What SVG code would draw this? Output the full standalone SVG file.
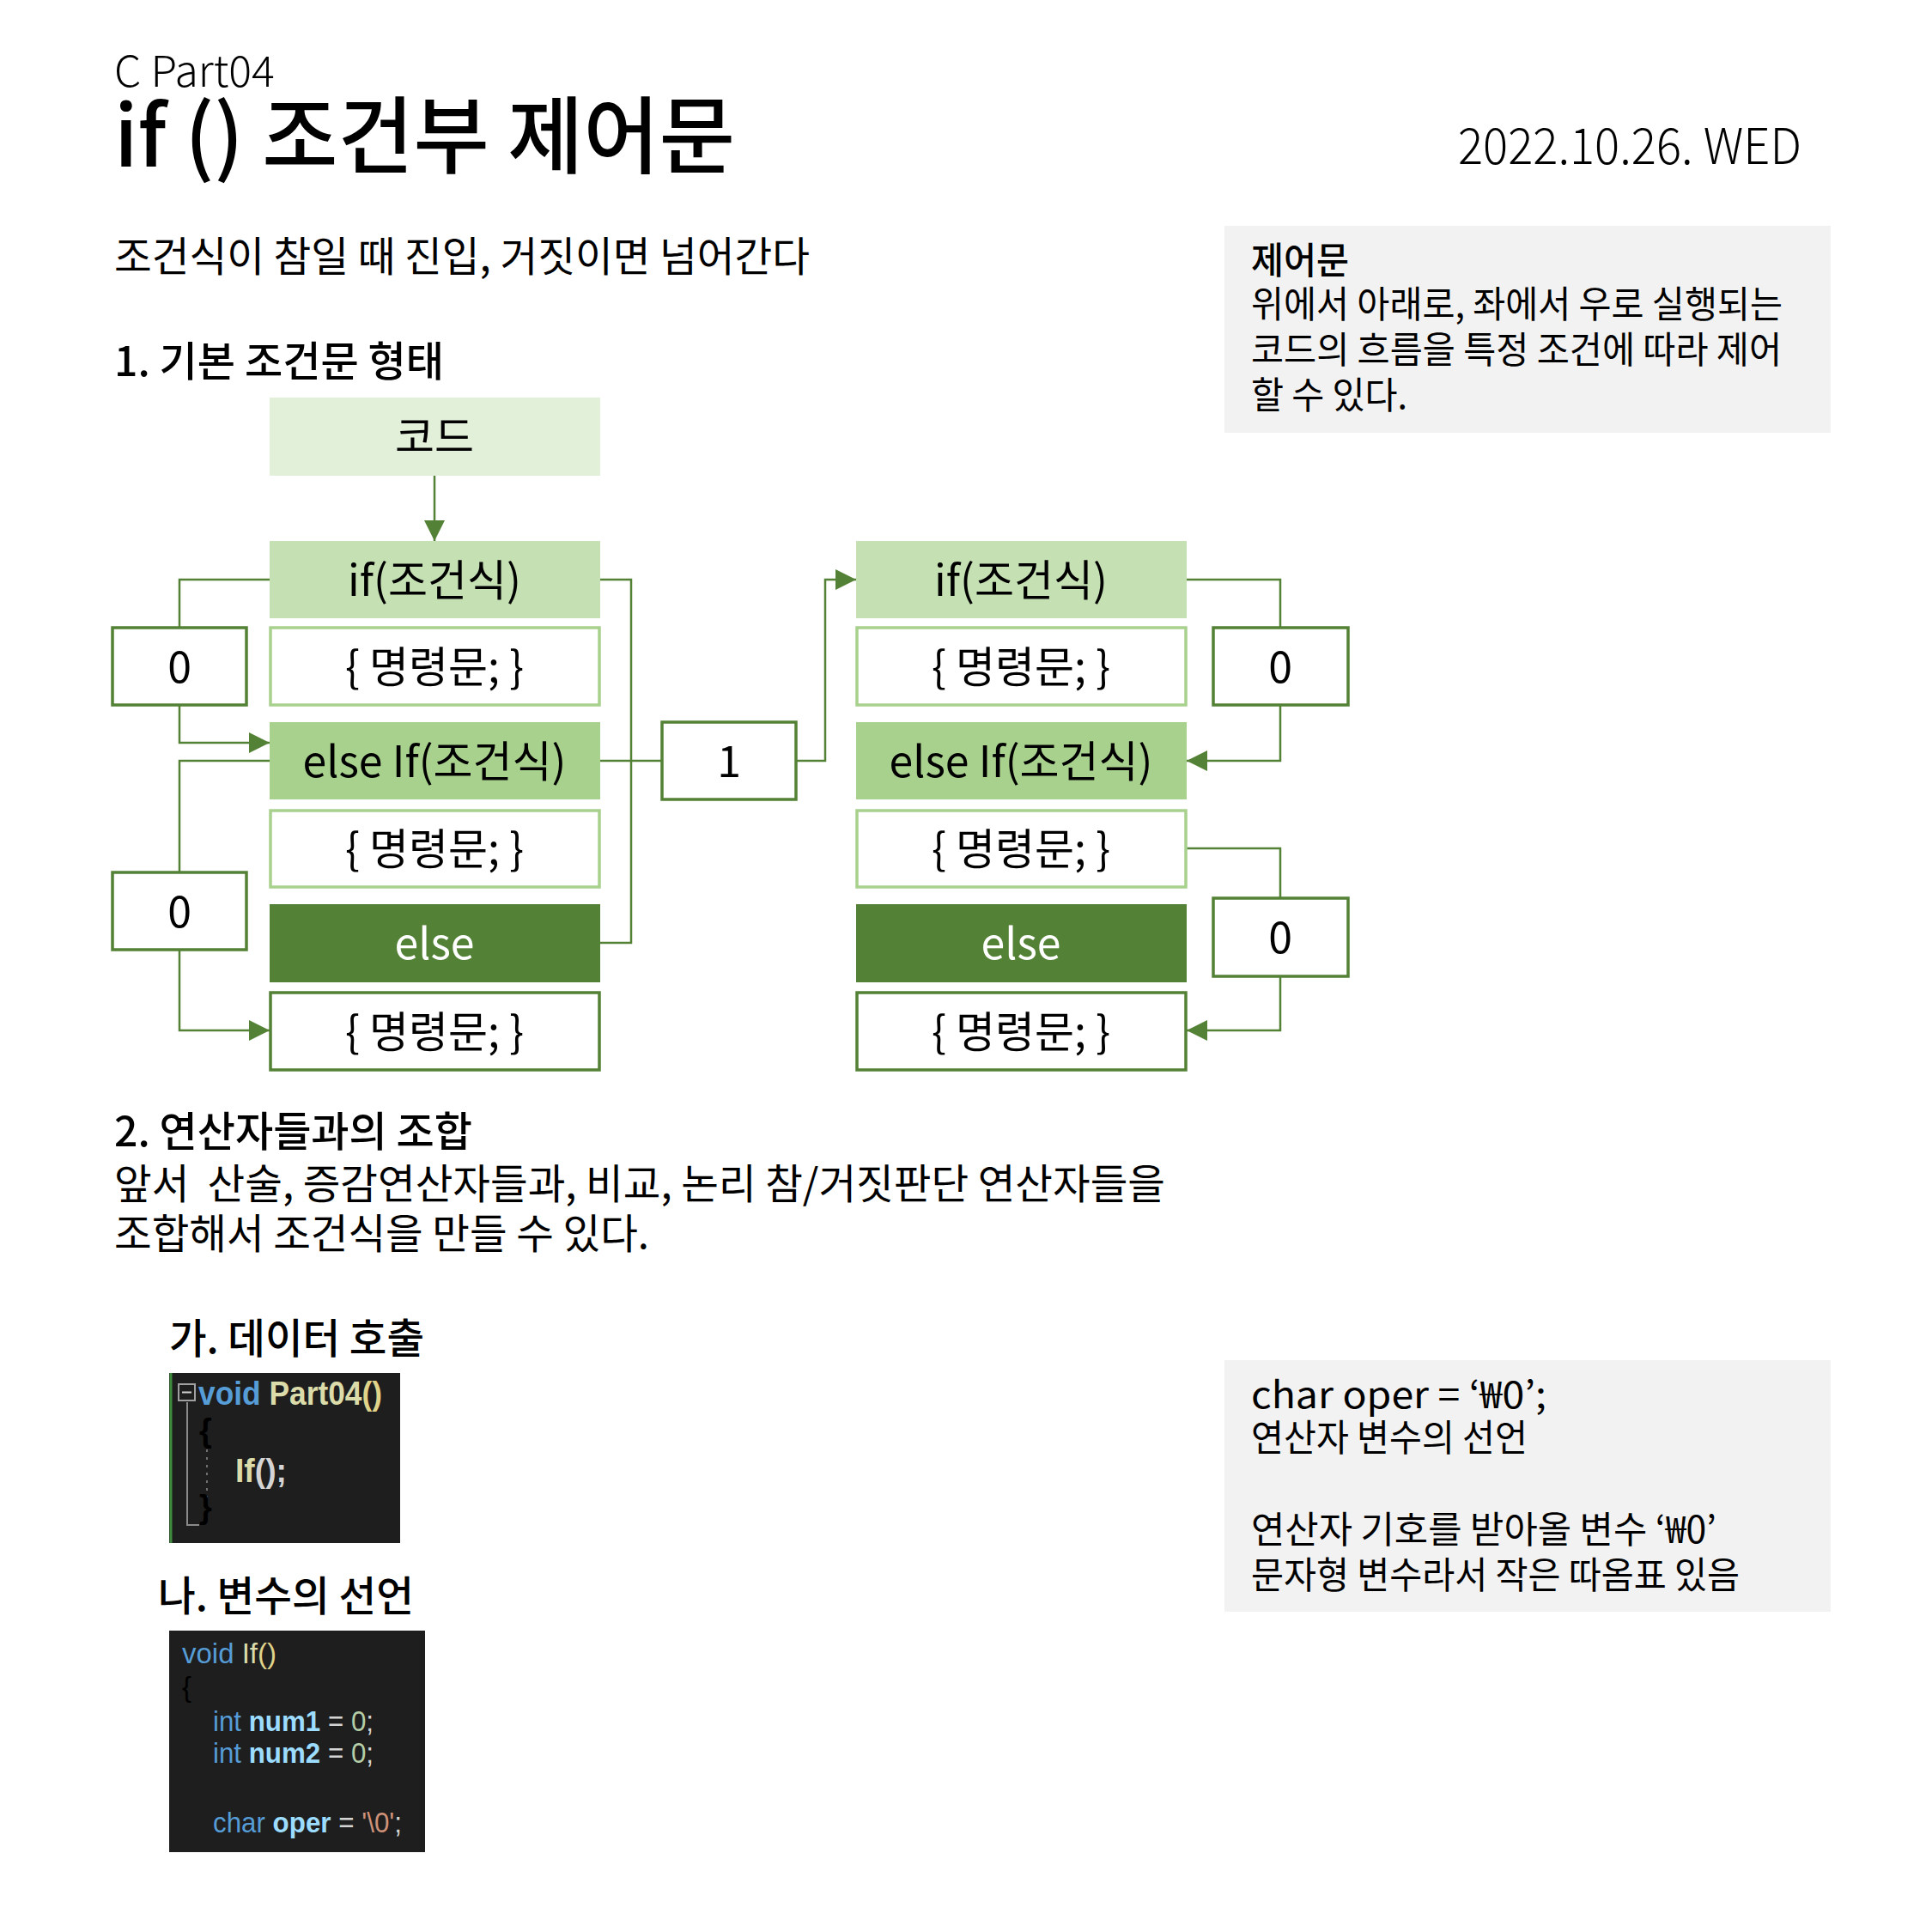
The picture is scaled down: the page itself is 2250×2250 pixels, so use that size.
<svg xmlns="http://www.w3.org/2000/svg" width="2250" height="2250" viewBox="0 0 2250 2250">
<style>
  text { font-family: "Noto Sans CJK KR", "Noto Sans", sans-serif; fill: #000; }
  .lbl { font-size: 50px; text-anchor: middle; dominant-baseline: central; }
  .wht { fill: #fff; }
  .body { font-size: 48px; }
  .note { font-size: 43px; }
  .bold { font-weight: 500; }
  .code { font-family: "Liberation Sans", Arial, sans-serif; }
  .conn { fill: none; stroke: #538135; stroke-width: 2.5; }
  .c1 { fill: #e2efd9; }
  .c2 { fill: #c5e0b3; }
  .c3 { fill: #a9d18e; }
  .c4 { fill: #538135; }
  .cmdL { fill: #fff; stroke: #a9d18e; stroke-width: 3.5; }
  .cmdD { fill: #fff; stroke: #538135; stroke-width: 3.5; }
  .num { fill: #fff; stroke: #538135; stroke-width: 3.5; }
  .gray { fill: #f2f2f2; }
</style>
<defs>
  <marker id="arr" viewBox="0 0 10 10" refX="10" refY="5" markerUnits="userSpaceOnUse" markerWidth="24" markerHeight="24" orient="auto">
    <path d="M0,0 L10,5 L0,10 z" fill="#538135"/>
  </marker>
</defs>
<rect width="2250" height="2250" fill="#fff"/>

<!-- Header -->
<g id="header">
  <text x="133" y="101" font-size="50" font-weight="300">C Part04</text>
  <text x="133" y="194" font-size="98" font-weight="500" textLength="723" lengthAdjust="spacingAndGlyphs">if () 조건부 제어문</text>
  <text x="2098" y="191" font-size="58" font-weight="300" text-anchor="end" textLength="400" lengthAdjust="spacingAndGlyphs">2022.10.26. WED</text>
  <text x="133" y="316" class="body" textLength="810" lengthAdjust="spacingAndGlyphs">조건식이 참일 때 진입, 거짓이면 넘어간다</text>
  <text x="133" y="438" class="body bold" textLength="384" lengthAdjust="spacingAndGlyphs">1. 기본 조건문 형태</text>
</g>

<!-- Note box 1 -->
<g id="note1">
  <rect x="1426" y="263" width="706" height="241" class="gray"/>
  <text x="1457" y="319" class="note bold" textLength="114" lengthAdjust="spacingAndGlyphs">제어문</text>
  <text x="1457" y="370" class="note" textLength="619" lengthAdjust="spacingAndGlyphs">위에서 아래로, 좌에서 우로 실행되는</text>
  <text x="1457" y="423" class="note" textLength="618" lengthAdjust="spacingAndGlyphs">코드의 흐름을 특정 조건에 따라 제어</text>
  <text x="1457" y="476" class="note" textLength="182" lengthAdjust="spacingAndGlyphs">할 수 있다.</text>
</g>

<!-- Connectors -->
<g id="connectors">
  <line x1="506" y1="554" x2="506" y2="630" class="conn" marker-end="url(#arr)"/>
  <polyline points="314,675 209,675 209,730" class="conn"/>
  <polyline points="209,822 209,865 314,865" class="conn" marker-end="url(#arr)"/>
  <polyline points="314,886 209,886 209,1016" class="conn"/>
  <polyline points="209,1106 209,1200 314,1200" class="conn" marker-end="url(#arr)"/>
  <polyline points="699,675 735,675 735,1098 699,1098" class="conn"/>
  <line x1="699" y1="886" x2="771" y2="886" class="conn"/>
  <polyline points="927,886 961,886 961,675 997,675" class="conn" marker-end="url(#arr)"/>
  <polyline points="1382,675 1491,675 1491,730" class="conn"/>
  <polyline points="1491,822 1491,886 1382,886" class="conn" marker-end="url(#arr)"/>
  <polyline points="1382,988 1491,988 1491,1046" class="conn"/>
  <polyline points="1491,1137 1491,1200 1382,1200" class="conn" marker-end="url(#arr)"/>
</g>

<!-- Left column -->
<g id="code-box"><rect x="314" y="463" width="385" height="91" class="c1"/><text x="506" y="505" class="lbl">코드</text></g>
<g id="L-if"><rect x="314" y="630" width="385" height="90" class="c2"/><text x="506" y="672" class="lbl">if(조건식)</text></g>
<g id="L-cmd1"><rect x="315" y="731" width="383" height="90" class="cmdL"/><text x="506" y="773" class="lbl">{ 명령문; }</text></g>
<g id="L-elseif"><rect x="314" y="841" width="385" height="90" class="c3"/><text x="506" y="883" class="lbl">else If(조건식)</text></g>
<g id="L-cmd2"><rect x="315" y="944" width="383" height="89" class="cmdL"/><text x="506" y="985" class="lbl">{ 명령문; }</text></g>
<g id="L-else"><rect x="314" y="1053" width="385" height="91" class="c4"/><text x="506" y="1095" class="lbl wht">else</text></g>
<g id="L-cmd3"><rect x="315" y="1156" width="383" height="90" class="cmdD"/><text x="506" y="1198" class="lbl">{ 명령문; }</text></g>

<g id="L-zero1"><rect x="131" y="731" width="156" height="90" class="num"/><text x="209" y="773" class="lbl">0</text></g>
<g id="L-zero2"><rect x="131" y="1016" width="156" height="90" class="num"/><text x="209" y="1058" class="lbl">0</text></g>
<g id="one"><rect x="771" y="841" width="156" height="90" class="num"/><text x="849" y="883" class="lbl">1</text></g>

<!-- Right column -->
<g id="R-if"><rect x="997" y="630" width="385" height="90" class="c2"/><text x="1189" y="672" class="lbl">if(조건식)</text></g>
<g id="R-cmd1"><rect x="998" y="731" width="383" height="90" class="cmdL"/><text x="1189" y="773" class="lbl">{ 명령문; }</text></g>
<g id="R-elseif"><rect x="997" y="841" width="385" height="90" class="c3"/><text x="1189" y="883" class="lbl">else If(조건식)</text></g>
<g id="R-cmd2"><rect x="998" y="944" width="383" height="89" class="cmdL"/><text x="1189" y="985" class="lbl">{ 명령문; }</text></g>
<g id="R-else"><rect x="997" y="1053" width="385" height="91" class="c4"/><text x="1189" y="1095" class="lbl wht">else</text></g>
<g id="R-cmd3"><rect x="998" y="1156" width="383" height="90" class="cmdD"/><text x="1189" y="1198" class="lbl">{ 명령문; }</text></g>

<g id="R-zero1"><rect x="1413" y="731" width="157" height="90" class="num"/><text x="1491" y="773" class="lbl">0</text></g>
<g id="R-zero2"><rect x="1413" y="1046" width="157" height="91" class="num"/><text x="1491" y="1088" class="lbl">0</text></g>

<!-- Section 2 -->
<g id="section2">
  <text x="133" y="1335" class="body bold" textLength="417" lengthAdjust="spacingAndGlyphs">2. 연산자들과의 조합</text>
  <text x="133" y="1396" class="body" textLength="1224" lengthAdjust="spacingAndGlyphs" style="white-space: pre">앞서  산술, 증감연산자들과, 비교, 논리 참/거짓판단 연산자들을</text>
  <text x="133" y="1454" class="body" textLength="623" lengthAdjust="spacingAndGlyphs">조합해서 조건식을 만들 수 있다.</text>
  <text x="197" y="1576" class="body bold" textLength="297" lengthAdjust="spacingAndGlyphs">가. 데이터 호출</text>
  <text x="184" y="1876" class="body bold" textLength="298" lengthAdjust="spacingAndGlyphs">나. 변수의 선언</text>
</g>

<!-- Code snippet 1 -->
<g id="code1">
  <rect x="197" y="1599" width="269" height="198" fill="#1e1e1e"/>
  <line x1="199" y1="1599" x2="199" y2="1797" stroke="#3f8a3f" stroke-width="3"/>
  <rect x="208" y="1612" width="19" height="19" fill="none" stroke="#a0a0a0" stroke-width="2"/>
  <line x1="212" y1="1621.5" x2="223" y2="1621.5" stroke="#d0d0d0" stroke-width="2"/>
  <polyline points="218,1633 218,1776 232,1776" fill="none" stroke="#8a8a8a" stroke-width="2"/>
  <line x1="241" y1="1688" x2="241" y2="1748" stroke="#707070" stroke-width="2" stroke-dasharray="3 6"/>
  <text x="231" y="1636" class="code" font-size="38" font-weight="700" textLength="214" lengthAdjust="spacingAndGlyphs"><tspan fill="#569cd6">void</tspan><tspan fill="#dcdcaa"> Part04</tspan><tspan fill="#e0d38a">()</tspan></text>
  <text x="232" y="1679" class="code" font-size="38" font-weight="700" fill="#e3c46d">{</text>
  <text x="274" y="1726" class="code" font-size="38" font-weight="700" textLength="60" lengthAdjust="spacingAndGlyphs"><tspan fill="#dcdcaa">If</tspan><tspan fill="#d4d4d4">();</tspan></text>
  <text x="232" y="1768" class="code" font-size="38" font-weight="700" fill="#e3c46d">}</text>
</g>

<!-- Code snippet 2 -->
<g id="code2">
  <rect x="197" y="1899" width="298" height="258" fill="#1e1e1e"/>
  <text x="212" y="1937" class="code" font-size="33" textLength="110" lengthAdjust="spacingAndGlyphs"><tspan fill="#569cd6">void</tspan><tspan fill="#dcdcaa"> If</tspan><tspan fill="#e0d38a">()</tspan></text>
  <text x="212" y="1976" class="code" font-size="33" fill="#e3c46d">{</text>
  <text x="248" y="2016" class="code" font-size="33" textLength="187" lengthAdjust="spacingAndGlyphs"><tspan fill="#569cd6">int</tspan><tspan fill="#9cdcfe" font-weight="700"> num1</tspan><tspan fill="#d4d4d4"> = </tspan><tspan fill="#b5cea8">0</tspan><tspan fill="#d4d4d4">;</tspan></text>
  <text x="248" y="2053" class="code" font-size="33" textLength="187" lengthAdjust="spacingAndGlyphs"><tspan fill="#569cd6">int</tspan><tspan fill="#9cdcfe" font-weight="700"> num2</tspan><tspan fill="#d4d4d4"> = </tspan><tspan fill="#b5cea8">0</tspan><tspan fill="#d4d4d4">;</tspan></text>
  <text x="248" y="2134" class="code" font-size="33" textLength="220" lengthAdjust="spacingAndGlyphs"><tspan fill="#569cd6">char</tspan><tspan fill="#9cdcfe" font-weight="700"> oper</tspan><tspan fill="#d4d4d4"> = </tspan><tspan fill="#ce9178">'\0'</tspan><tspan fill="#d4d4d4">;</tspan></text>
</g>

<!-- Note box 2 -->
<g id="note2">
  <rect x="1426" y="1584" width="706" height="293" class="gray"/>
  <text x="1457" y="1640" class="note" textLength="344" lengthAdjust="spacingAndGlyphs">char oper = ‘₩0’;</text>
  <text x="1457" y="1690" class="note" textLength="322" lengthAdjust="spacingAndGlyphs">연산자 변수의 선언</text>
  <text x="1457" y="1797" class="note" textLength="542" lengthAdjust="spacingAndGlyphs">연산자 기호를 받아올 변수 ‘₩0’</text>
  <text x="1457" y="1850" class="note" textLength="569" lengthAdjust="spacingAndGlyphs">문자형 변수라서 작은 따옴표 있음</text>
</g>
</svg>
